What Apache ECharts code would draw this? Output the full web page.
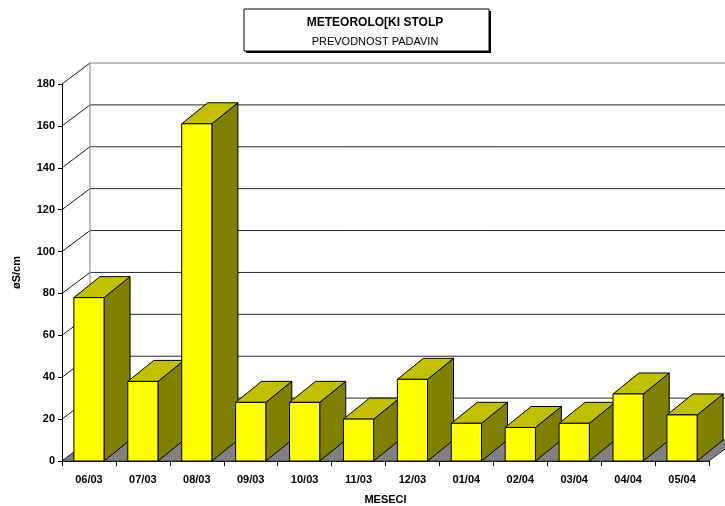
<!DOCTYPE html>
<html>
<head>
<meta charset="utf-8">
<script src="https://cdn.jsdelivr.net/npm/echarts@6/dist/echarts.min.js"></script>
<style>
  html, body { margin: 0; padding: 0; background: #ffffff; }
  #chart { width: 725px; height: 506px; }
</style>
</head>
<body>
<div id="chart"></div>
<script>
// Monthly precipitation conductivity (µS/cm)
const months = ['06/03', '07/03', '08/03', '09/03', '10/03', '11/03', '12/03', '01/04', '02/04', '03/04', '04/04', '05/04'];
const conductivity = [78, 38, 161, 28, 28, 20, 39, 18, 16, 18, 32, 22];
const yTicks = [0, 20, 40, 60, 80, 100, 120, 140, 160, 180];

const titleText = 'METEOROLO[KI STOLP';
const subtitleText = 'PREVODNOST PADAVIN';
const yAxisName = 'øS/cm';
const xAxisName = 'MESECI';

// Oblique depth of the back wall / floor and of each column
const WALL_DX = 28, WALL_DY = -21;
const BAR_DX = 26, BAR_DY = -21;
const BAR_RATIO = 0.56;

const FONT = '"Liberation Sans", Arial, sans-serif';

const chart = echarts.init(document.getElementById('chart'), null, { renderer: 'canvas' });

// Back wall gridlines: diagonal from the front axis to the wall, then across the wall
function renderGrid(params, api) {
  const cs = params.coordSys;
  const v = api.value(1);
  const y = api.coord([0, v])[1];
  const x0 = cs.x;
  const xEnd = cs.x + cs.width + WALL_DX;
  return {
    type: 'group',
    children: [
      { type: 'line', shape: { x1: x0, y1: y, x2: x0 + WALL_DX, y2: y + WALL_DY },
        style: { stroke: '#1a1a1a', lineWidth: 1 } },
      { type: 'line', shape: { x1: x0 + WALL_DX, y1: y + WALL_DY, x2: xEnd, y2: y + WALL_DY },
        style: { stroke: v === 180 ? '#808080' : '#2a2a2a', lineWidth: 1 } }
    ]
  };
}

// Floor plane and the wall's left edge
function renderFloor(params, api) {
  const cs = params.coordSys;
  const y0 = api.coord([0, 0])[1];
  const yTop = api.coord([0, 180])[1];
  const x0 = cs.x, x1 = cs.x + cs.width;
  return {
    type: 'group',
    children: [
      { type: 'line', shape: { x1: x0 + WALL_DX, y1: y0 + WALL_DY, x2: x0 + WALL_DX, y2: yTop + WALL_DY },
        style: { stroke: '#808080', lineWidth: 1 } },
      { type: 'polygon',
        shape: { points: [[x0, y0], [x1, y0], [x1 + WALL_DX, y0 + WALL_DY], [x0 + WALL_DX, y0 + WALL_DY]] },
        style: { fill: '#808080', stroke: '#3a3a3a', lineWidth: 1 } }
    ]
  };
}

// Each column: front face, top face and right side face
function renderBar(params, api) {
  const i = api.value(0);
  const v = api.value(1);
  const top = api.coord([i, v]);
  const base = api.coord([i, 0]);
  const w = api.size([1, 0])[0] * BAR_RATIO;
  const xl = top[0] - w / 2, xr = top[0] + w / 2;
  const yt = top[1], yb = base[1];
  const edge = { stroke: '#000000', lineWidth: 1, lineJoin: 'miter' };
  return {
    type: 'group',
    children: [
      { type: 'polygon',
        shape: { points: [[xr, yt], [xr + BAR_DX, yt + BAR_DY], [xr + BAR_DX, yb + BAR_DY], [xr, yb]] },
        style: Object.assign({ fill: '#808000' }, edge) },
      { type: 'polygon',
        shape: { points: [[xl, yt], [xr, yt], [xr + BAR_DX, yt + BAR_DY], [xl + BAR_DX, yt + BAR_DY]] },
        style: Object.assign({ fill: '#c0c000' }, edge) },
      { type: 'rect',
        shape: { x: xl, y: yt, width: w, height: yb - yt },
        style: Object.assign({ fill: '#ffff00' }, edge) }
    ]
  };
}

const option = {
  backgroundColor: '#ffffff',
  animation: false,
  grid: { left: 62, right: 16, top: 84, bottom: 45, containLabel: false, outerBoundsMode: 'none' },
  xAxis: {
    type: 'category',
    data: months,
    boundaryGap: true,
    name: xAxisName,
    nameLocation: 'middle',
    nameGap: 33,
    nameTextStyle: { fontFamily: FONT, fontWeight: 'bold', fontSize: 11, color: '#000' },
    axisLine: { show: true, lineStyle: { color: '#000', width: 1 } },
    axisTick: { show: true, length: 5, interval: 0, lineStyle: { color: '#000' } },
    axisLabel: { interval: 0, margin: 13, fontFamily: FONT, fontWeight: 'bold', fontSize: 11, color: '#000' },
    splitLine: { show: false }
  },
  yAxis: {
    type: 'value',
    min: 0, max: 180, interval: 20,
    name: yAxisName,
    nameLocation: 'middle',
    nameRotate: 90,
    nameGap: 40,
    nameTextStyle: { fontFamily: FONT, fontWeight: 'bold', fontSize: 11, color: '#000' },
    axisLine: { show: true, lineStyle: { color: '#000', width: 1 } },
    axisTick: { show: true, length: 4, lineStyle: { color: '#000' } },
    axisLabel: { margin: 7, fontFamily: FONT, fontWeight: 'bold', fontSize: 11, color: '#000' },
    splitLine: { show: false }
  },
  graphic: [
    { type: 'rect', shape: { x: 246, y: 11, width: 245, height: 42 }, style: { fill: '#000' }, z: 10 },
    { type: 'rect', shape: { x: 244, y: 9, width: 245, height: 42 }, style: { fill: '#fff', stroke: '#000', lineWidth: 1 }, z: 11 },
    { type: 'text', x: 375, y: 23, z: 12,
      style: { text: titleText, align: 'center', verticalAlign: 'middle', fill: '#000',
               font: 'bold 12px ' + FONT } },
    { type: 'text', x: 375, y: 42, z: 12,
      style: { text: subtitleText, align: 'center', verticalAlign: 'middle', fill: '#000',
               font: '11px ' + FONT } }
  ],
  series: [
    { type: 'custom', renderItem: renderGrid, data: yTicks.map(v => [0, v]), silent: true, z: 1 },
    { type: 'custom', renderItem: renderFloor, data: [[0, 0]], silent: true, z: 2 },
    { type: 'custom', renderItem: renderBar, data: conductivity.map((v, i) => [i, v]), z: 3 }
  ]
};

chart.setOption(option);
</script>
</body>
</html>
